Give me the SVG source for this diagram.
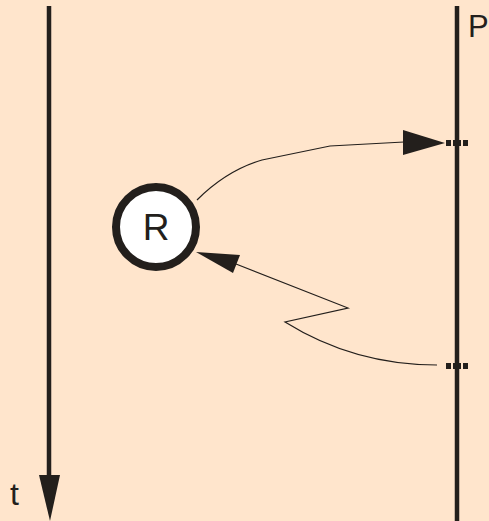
<svg xmlns="http://www.w3.org/2000/svg" width="489" height="521" viewBox="0 0 489 521">
<style>
.axis{stroke:#231f1c;stroke-width:4.5;fill:none}
.conn{stroke:#231f1c;stroke-width:1.2;fill:none}
.tick{stroke:#231f1c;stroke-width:6;stroke-dasharray:5 2 8 2 5 20;fill:none}
.lbl{font-family:"Liberation Sans",Arial,sans-serif;fill:#231f1c}
.head{fill:#231f1c}
</style>
<rect x="0" y="0" width="489" height="521" fill="#ffe5cc"/>
<g id="time-axis">
<line class="axis" x1="49" y1="6" x2="49" y2="480"/>
<polygon class="head" points="39,475 60,475 50,521"/>
<text class="lbl" x="10" y="505" font-size="32">t</text>
</g>
<g id="process-P">
<line class="axis" x1="457" y1="6" x2="457" y2="521"/>
<line class="tick" x1="446" y1="143" x2="468" y2="143"/>
<line class="tick" x1="446" y1="366" x2="468" y2="366"/>
<text class="lbl" x="468" y="37" font-size="31">P</text>
</g>
<g id="node-R">
<circle cx="156" cy="227" r="40" fill="#ffffff" stroke="#231f1c" stroke-width="8"/>
<text class="lbl" x="156" y="240" font-size="37" text-anchor="middle">R</text>
</g>
<g id="connectors">
<path class="conn" d="M197,200 C215,182 235,168 262,160 L330,146 L404,142"/>
<polygon class="head" points="403,130 403,155 445,143"/>
<path class="conn" d="M236,264 L348,308 L285,322 C330,350 380,365 437,365"/>
<polygon class="head" points="196,252 240,255 233,273"/>
</g>
</svg>
